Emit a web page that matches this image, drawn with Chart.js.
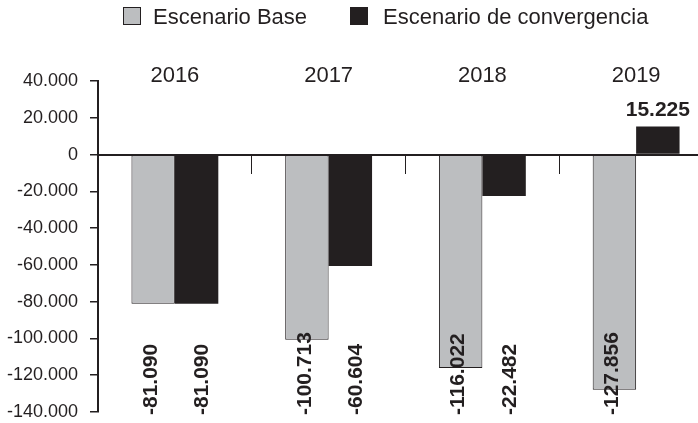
<!DOCTYPE html>
<html><head><meta charset="utf-8">
<script src="https://cdn.jsdelivr.net/npm/chart.js@4.4.0/dist/chart.umd.min.js"></script>
<style>
html,body{margin:0;padding:0;background:#fff;overflow:hidden;width:698px;height:423px;}
#wrap{position:relative;width:698px;height:423px;overflow:hidden;}
canvas{position:absolute;left:0;top:0;}
.lgt{position:absolute;font-size:22px;font-family:'Liberation Sans',Arial,sans-serif;color:#231F20;line-height:22px;white-space:nowrap;}
.lgb{position:absolute;width:18px;height:18px;box-sizing:border-box;}
</style></head><body>
<div id="wrap">
<canvas id="c" width="714" height="423"></canvas>
<div id="legend"></div>
</div>
<script>
// ---- data ----
const categories = ['2016', '2017', '2018', '2019'];
const seriesNames = ['Escenario Base', 'Escenario de convergencia'];
const baseValues = [-81090, -100713, -116022, -127856];
const convergenceValues = [-81090, -60604, -22482, 15225];
const yTickMin = -140000;
const yTickMax = 40000;
const yTickStep = 20000;

// ---- style ----
const INK = '#231F20';
const GRAY = '#BCBEC0';
const FAMILY = "'Liberation Sans', Arial, sans-serif";

function fmt(v) {
  const s = Math.abs(Math.round(v)).toString().replace(/\B(?=(\d{3})+(?!\d))/g, '.');
  return (v < 0 ? '-' : '') + s;
}

// HTML legend
const legendSpec = [
  {name: seriesNames[0], fill: GRAY, border: '1px solid ' + INK, boxX: 123, textX: 153},
  {name: seriesNames[1], fill: INK, border: '1px solid ' + INK, boxX: 350, textX: 383}
];
const lg = document.getElementById('legend');
legendSpec.forEach(it => {
  const b = document.createElement('div');
  b.className = 'lgb';
  b.style.left = it.boxX + 'px'; b.style.top = '7px';
  b.style.background = it.fill; b.style.border = it.border;
  lg.appendChild(b);
  const t = document.createElement('div');
  t.className = 'lgt';
  t.style.left = it.textX + 'px'; t.style.top = '6px';
  t.textContent = it.name;
  lg.appendChild(t);
});

const valueLabels = {
  id: 'valueLabels',
  afterDatasetsDraw(chart) {
    const ctx = chart.ctx;
    const area = chart.chartArea;
    ctx.save();
    ctx.fillStyle = INK;
    ctx.font = 'bold 21px ' + FAMILY;
    chart.data.datasets.forEach((ds, di) => {
      const meta = chart.getDatasetMeta(di);
      meta.data.forEach((bar, i) => {
        const v = ds.data[i];
        const txt = fmt(v);
        if (v < 0) {
          ctx.save();
          ctx.translate(bar.x + (di === 0 ? -2 : 6), area.bottom + 3);
          ctx.rotate(-Math.PI / 2);
          ctx.textAlign = 'left';
          ctx.textBaseline = 'middle';
          ctx.fillText(txt, 0, 0);
          ctx.restore();
        } else {
          ctx.textAlign = 'center';
          ctx.textBaseline = 'alphabetic';
          ctx.fillText(txt, bar.x, bar.y - 11);
        }
      });
    });
    ctx.restore();
  }
};

new Chart(document.getElementById('c'), {
  type: 'bar',
  data: {
    labels: categories,
    datasets: [
      {label: seriesNames[0], data: baseValues, backgroundColor: GRAY, borderColor: INK, borderWidth: 1, borderSkipped: false},
      {label: seriesNames[1], data: convergenceValues, backgroundColor: INK, borderColor: INK, borderWidth: 0}
    ]
  },
  options: {
    responsive: false,
    animation: false,
    categoryPercentage: 0.565,
    barPercentage: 1,
    layout: {padding: {top: 64, right: 1, bottom: 11, left: 0}},
    plugins: {legend: {display: false}, tooltip: {enabled: false}},
    scales: {
      x: {
        type: 'category',
        position: {y: 0},
        offset: true,
        grid: {display: true, offset: true, drawOnChartArea: false, drawTicks: true, tickLength: 18, color: INK, lineWidth: 1},
        border: {display: true, color: INK, width: 2},
        ticks: {display: false},
        afterFit(s) { s.height = 0; }
      },
      x2: {
        type: 'category',
        position: 'top',
        offset: true,
        grid: {display: false, drawTicks: false, offset: true},
        border: {display: false},
        ticks: {mirror: true, color: INK, font: {size: 22, family: FAMILY}, padding: -18, maxRotation: 0, autoSkip: false},
        afterFit(s) { s.height = 17; }
      },
      y: {
        min: yTickMin,
        max: yTickMax,
        ticks: {stepSize: yTickStep, callback: v => fmt(v), color: INK, font: {size: 18, family: FAMILY}, padding: 12},
        grid: {drawOnChartArea: false, drawTicks: true, tickLength: 8, color: INK, lineWidth: 1.5},
        border: {color: INK, width: 2},
        afterFit(s) { s.width = 98; s.paddingTop = 11; s.paddingBottom = 11; }
      }
    }
  },
  plugins: [valueLabels]
});
</script>
</body></html>
